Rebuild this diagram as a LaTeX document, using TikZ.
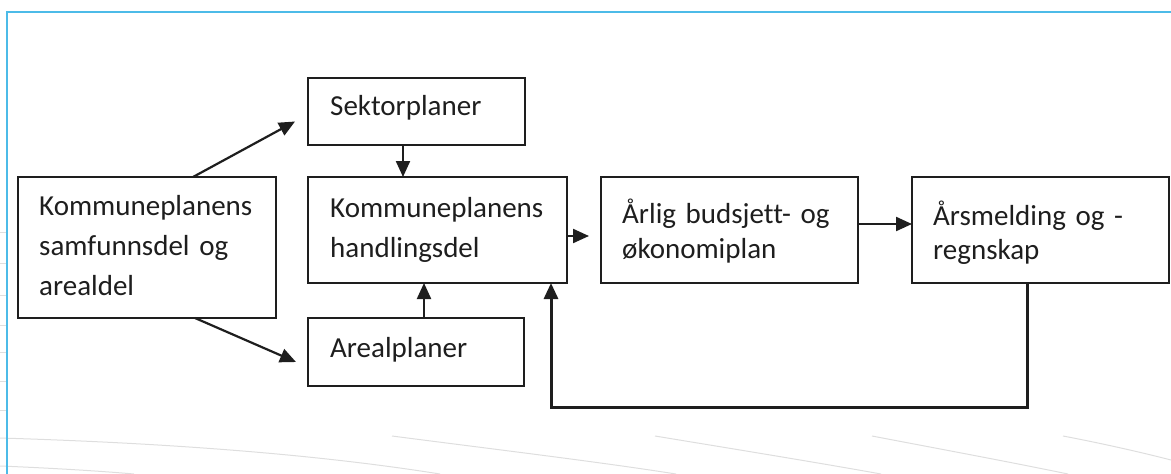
\documentclass[tikz,border=0pt]{standalone}
\usepackage{fontspec}
\setmainfont[Ligatures=NoCommon]{Carlito}
\usetikzlibrary{arrows.meta, calc, positioning}
\definecolor{frameblue}{RGB}{76,187,232}
\definecolor{swoosh}{RGB}{222,222,222}
\definecolor{boxline}{RGB}{30,30,30}

\begin{document}
\begin{tikzpicture}[x=1pt, y=-1pt,
    planbox/.style={draw=boxline, line width=2.2pt, outer sep=0pt, inner sep=0pt, anchor=north west},
    boxtext/.style={anchor=base west, inner sep=0pt, text width=250pt, align=left, text=boxline,
      font=\fontsize{29}{40}\selectfont},
    arr/.style={draw=boxline, line width=2.2pt, -{Triangle[length=16pt,width=14pt]}},
  ]
  \useasboundingbox (0,0) rectangle (1171,474);

  % Background swooshes
  \draw[swoosh, line width=1pt] (0,438) .. controls (200,444) and (340,458) .. (440,474);
  \draw[swoosh, line width=1pt] (0,466) .. controls (50,468) and (100,471) .. (134,474);
  \draw[swoosh, line width=1pt] (392,436) .. controls (500,450) and (600,462) .. (676,474);
  \draw[swoosh, line width=1pt] (655,436) .. controls (740,450) and (820,463) .. (881,474);
  \draw[swoosh, line width=1pt] (872,436) .. controls (940,449) and (1010,462) .. (1068,474);
  \draw[swoosh, line width=1pt] (1063,436) .. controls (1100,443) and (1140,452) .. (1171,460);
  \foreach \ty in {232,263,295,325,352,381,410}
    \draw[swoosh, line width=1pt] (0,\ty) -- (6,\ty);

  % Frame
  \draw[frameblue, line width=2.5pt] (7,474) -- (7,12) -- (1171,12);

  % Boxes
  \node[planbox, minimum width=258pt, minimum height=141pt] (plan) at (18,177) {};
  \node[planbox, minimum width=217pt, minimum height=67pt] (sektor) at (308,78) {};
  \node[planbox, minimum width=259pt, minimum height=106pt] (handling) at (308,177) {};
  \node[planbox, minimum width=216pt, minimum height=68pt] (areal) at (308,318) {};
  \node[planbox, minimum width=257pt, minimum height=106pt] (budsjett) at (601,177) {};
  \node[planbox, minimum width=257pt, minimum height=106pt] (aars) at (912,177) {};

  % Texts
  \node[boxtext] (plantxt) at (39,215) {Kommuneplanens\\samfunnsdel og\\arealdel};
  \node[boxtext] (sektortxt) at (330,115) {Sektorplaner};
  \node[boxtext] (handlingtxt) at (330,217) {Kommuneplanens\\handlingsdel};
  \node[boxtext] (arealtxt) at (330,357) {Arealplaner};
  \node[boxtext, font=\fontsize{29}{35}\selectfont] (budsjetttxt) at (622,223) {Årlig budsjett- og\\økonomiplan};
  \node[boxtext, font=\fontsize{29}{34}\selectfont] (aarstxt) at (933,225) {Årsmelding og -\\regnskap};

  % Arrows
  \draw[arr] ([xshift=46pt]plan.north) -- ([xshift=-13pt,yshift=-10pt]sektor.west);
  \draw[arr] ([xshift=48pt]plan.south) -- ([xshift=-12pt,yshift=-10pt]areal.west);

  \coordinate (sk) at ([xshift=-13.5pt]sektor.south);
  \draw[arr] (sk) -- (sk |- handling.north);
  \coordinate (ar) at ([xshift=8pt]areal.north);
  \draw[arr] (ar) -- (ar |- handling.south);

  \coordinate (hb) at ([yshift=-6pt]handling.east);
  \coordinate (hbend) at ($(hb -| budsjett.west)+(-12,0)$);
  \draw[arr] (hb) -- (hbend);
  \draw[arr] ([yshift=6pt]budsjett.east) -- ([yshift=6pt]aars.west);

  % Feedback loop
  \draw[arr, line width=3pt] ([xshift=-13pt]aars.south) -- ++(0,124) -| ([xshift=-16pt]handling.south east);
\end{tikzpicture}
\end{document}
